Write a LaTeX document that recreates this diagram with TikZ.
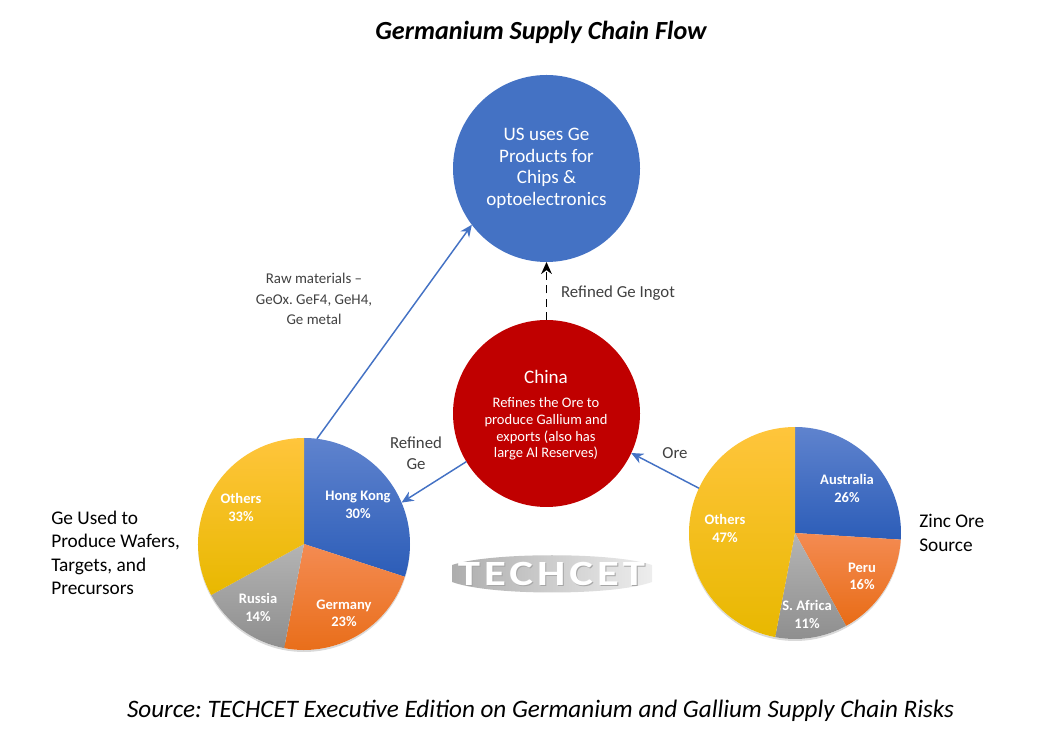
\documentclass[tikz,border=0pt]{standalone}
\usepackage{fontspec}
\setmainfont{Carlito}
\usetikzlibrary{arrows.meta,shadows}
\definecolor{hubblue}{HTML}{4472C4}
\definecolor{hubred}{HTML}{C00000}
\definecolor{labelgray}{HTML}{404040}
\definecolor{bluetop}{HTML}{5F83CE}
\definecolor{bluelow}{HTML}{2C5DB8}
\definecolor{orangetop}{HTML}{F48B52}
\definecolor{orangelow}{HTML}{E86C16}
\definecolor{graytop}{HTML}{B4B4B4}
\definecolor{graylow}{HTML}{8E8E8E}
\definecolor{yellowtop}{HTML}{FFC53C}
\definecolor{yellowmid}{HTML}{FFC000}
\definecolor{yellowlow}{HTML}{E8B800}
\frenchspacing
\tikzset{
    hub/.style={circle,inner sep=0pt,outer sep=0pt,text=white,align=center},
    piebase/.style={circle,inner sep=0pt,outer sep=0pt,minimum size=159pt,fill=white,
        drop shadow={shadow xshift=0pt,shadow yshift=-1.5pt,opacity=0.3}},
    bluewedge/.style={top color=bluetop,bottom color=bluelow},
    orangewedge/.style={top color=orangetop,bottom color=orangelow},
    graywedge/.style={top color=graytop,bottom color=graylow},
    yellowwedge/.style={top color=yellowtop,middle color=yellowmid,bottom color=yellowlow},
    slicetext/.style={text=white,align=center,font=\fontsize{10.9}{13}\selectfont\bfseries},
    flowtext/.style={text=labelgray,align=center,font=\fontsize{12.6}{15.4}\selectfont},
    sidetext/.style={text=black,align=left,font=\fontsize{14.5}{17.6}\selectfont},
    logotype/.style={font=\fontsize{28}{28}\selectfont\bfseries\addfontfeature{LetterSpace=9}},
    flow/.style={draw=hubblue,line width=1.1pt,-{Stealth[length=9pt,width=8pt]}}
}
\begin{document}
\begin{tikzpicture}[x=0.75pt,y=0.75pt]
    \useasboundingbox (0,0) rectangle (1060,746);
    \node[font=\fontsize{19.6}{24}\selectfont\bfseries\itshape] (title) at (541,714) {Germanium Supply Chain Flow};
    \node[hub,fill=hubblue,minimum size=140.25pt,font=\fontsize{14.3}{16.1}\selectfont] (usnode) at (546.5,577.5)
        {US uses Ge\\Products for\\Chips \&\\optoelectronics};
    \node[hub,fill=hubred,minimum size=140.25pt] (chinanode) at (546.5,332.5) {};
    \node[text=white,font=\fontsize{14.3}{17}\selectfont] (chinatitle) at (546,369) {China};
    \node[text=white,align=center,font=\fontsize{10.9}{12.4}\selectfont] (chinabody) at (546,317)
        {Refines the Ore to\\produce Gallium and\\exports (also has\\large Al Reserves)};

    \node[piebase] (gepie) at (304,202) {};
    \shade[bluewedge] (gepie.center) -- ++(90:106) arc (90:-18:106) -- cycle;
    \shade[orangewedge] (gepie.center) -- ++(-18:106) arc (-18:-100.8:106) -- cycle;
    \shade[graywedge] (gepie.center) -- ++(-100.8:106) arc (-100.8:-151.2:106) -- cycle;
    \shade[yellowwedge] (gepie.center) -- ++(-151.2:106) arc (-151.2:-270:106) -- cycle;
    \node[slicetext] (hongkong) at (358,241) {Hong Kong\\30\%};
    \node[slicetext] (germany) at (344,132.5) {Germany\\23\%};
    \node[slicetext] (russia) at (258,138.5) {Russia\\14\%};
    \node[slicetext] (geothers) at (241,238.5) {Others\\33\%};

    \node[piebase] (zincpie) at (795,213) {};
    \shade[bluewedge] (zincpie.center) -- ++(90:106) arc (90:-3.6:106) -- cycle;
    \shade[orangewedge] (zincpie.center) -- ++(-3.6:106) arc (-3.6:-61.2:106) -- cycle;
    \shade[graywedge] (zincpie.center) -- ++(-61.2:106) arc (-61.2:-100.8:106) -- cycle;
    \shade[yellowwedge] (zincpie.center) -- ++(-100.8:106) arc (-100.8:-270:106) -- cycle;
    \node[slicetext] (australia) at (847,257.5) {Australia\\26\%};
    \node[slicetext] (peru) at (862,169.5) {Peru\\16\%};
    \node[slicetext] (safrica) at (807,131.5) {S. Africa\\11\%};
    \node[slicetext] (zincothers) at (725,217.5) {Others\\47\%};

    \draw[flow] (gepie.83.5) -- (usnode.217);
    \draw[flow] (chinanode.211.3) -- (gepie.23.6);
    \draw[flow] (zincpie.155) -- (chinanode.-25.9);
    \draw[black,line width=1.2pt,dash pattern=on 6pt off 4pt,-{Stealth[length=9pt,width=8pt]}] (chinanode.north) -- (usnode.south);

    \node[flowtext,font=\fontsize{11.2}{15.4}\selectfont] (rawtext) at (314,447) {Raw materials --\\GeOx. GeF4, GeH4,\\Ge metal};
    \node[flowtext] (ingottext) at (618,453) {Refined Ge Ingot};
    \node[flowtext] (refinedtext) at (416,293) {Refined\\Ge};
    \node[flowtext] (oretext) at (675,293) {Ore};
    \node[sidetext,anchor=west,inner sep=0pt] (waferstext) at (51,193) {Ge Used to\\Produce Wafers,\\Targets, and\\Precursors};
    \node[sidetext,anchor=west,inner sep=0pt] (zinctext) at (919,213) {Zinc Ore\\Source};

    \shade[left color=black!32,right color=black!7] (452,181) .. controls (490,194) and (614,194) .. (652,181)
        -- (652,164) .. controls (614,150) and (490,150) .. (452,164) -- cycle;
    \node[logotype,text=black!35] (logoshadow) at (552.5,171) {\scalebox{1.2}[0.95]{TECHCET}};
    \node[logotype,text=white] (logotext) at (551.5,172) {\scalebox{1.2}[0.95]{TECHCET}};

    \node[font=\fontsize{18.85}{23}\selectfont\itshape] (sourcetext) at (540.5,35) {Source: TECHCET Executive Edition on Germanium and Gallium Supply Chain Risks};
\end{tikzpicture}
\end{document}
